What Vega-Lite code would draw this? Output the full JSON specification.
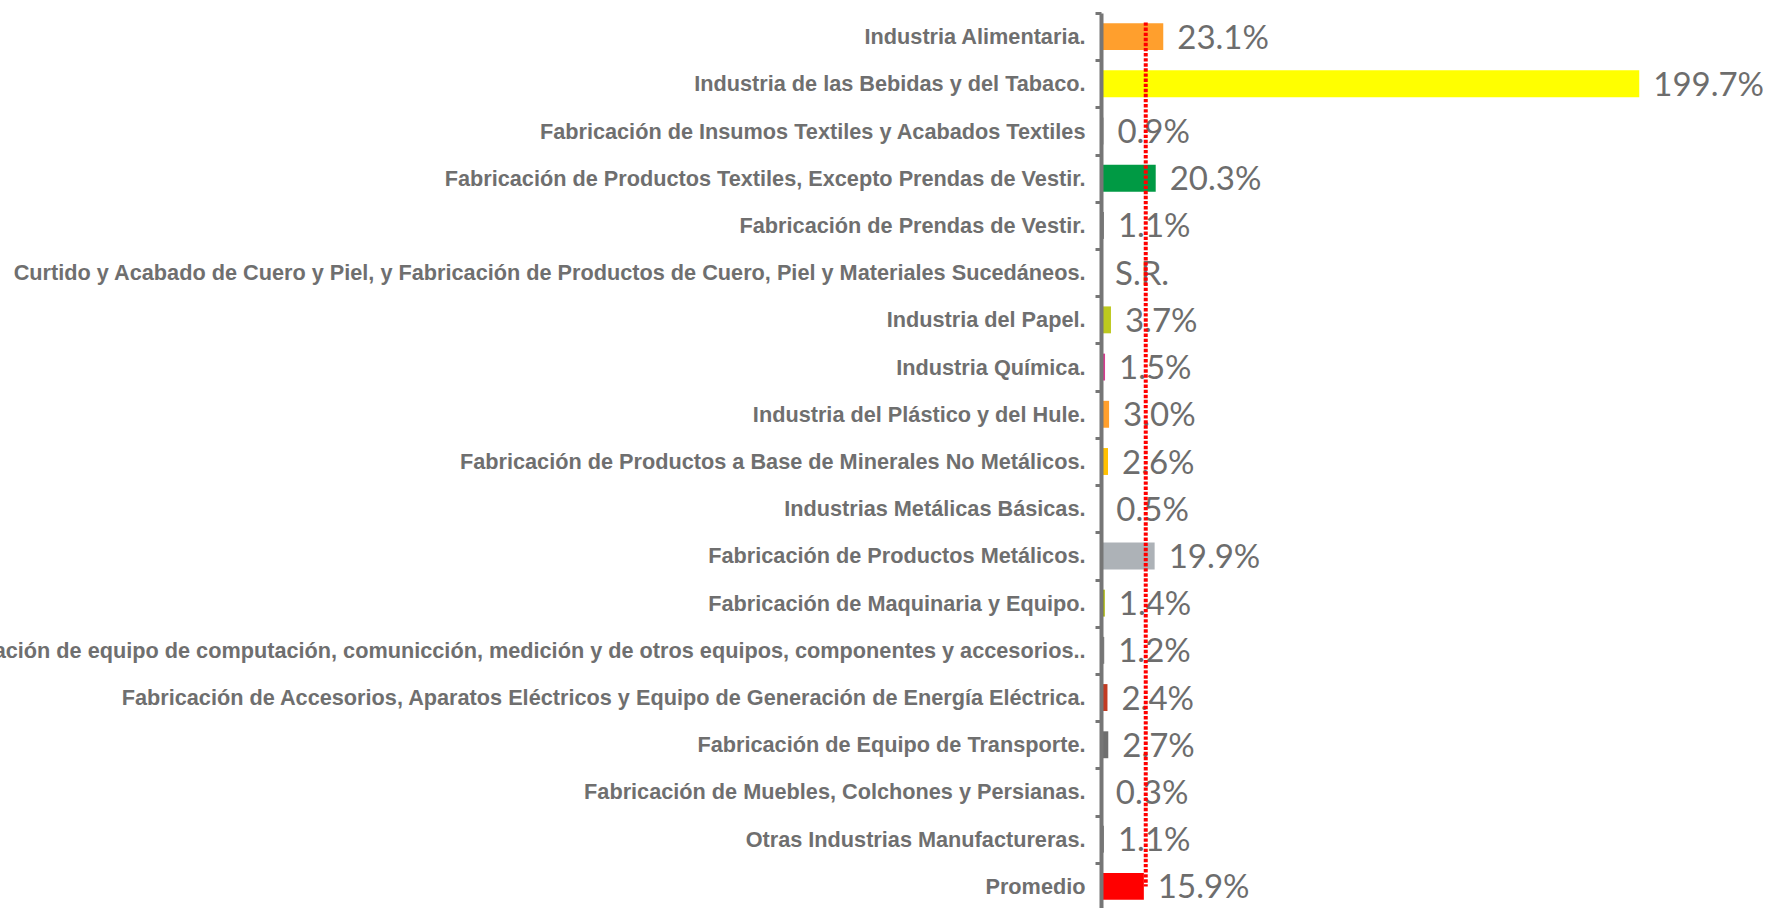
{
  "$schema": "https://vega.github.io/schema/vega-lite/v6.json",
  "autosize": "none",
  "padding": {"left": 1101, "top": 13, "right": 0, "bottom": 0},
  "width": 666,
  "height": 897,
  "background": "white",
  "config": {"view": {"stroke": null}},
  "data": {
    "values": [
      {"sector": "Industria Alimentaria.", "valor": 23.1, "etiqueta": "23.1%"},
      {"sector": "Industria de las Bebidas y del Tabaco.", "valor": 199.7, "etiqueta": "199.7%"},
      {"sector": "Fabricación de Insumos Textiles y Acabados Textiles", "valor": 0.9, "etiqueta": "0.9%"},
      {"sector": "Fabricación de Productos Textiles, Excepto Prendas de Vestir.", "valor": 20.3, "etiqueta": "20.3%"},
      {"sector": "Fabricación de Prendas de Vestir.", "valor": 1.1, "etiqueta": "1.1%"},
      {"sector": "Curtido y Acabado de Cuero y Piel, y Fabricación de Productos de Cuero, Piel y Materiales Sucedáneos.", "valor": null, "etiqueta": "S.R."},
      {"sector": "Industria del Papel.", "valor": 3.7, "etiqueta": "3.7%"},
      {"sector": "Industria Química.", "valor": 1.5, "etiqueta": "1.5%"},
      {"sector": "Industria del Plástico y del Hule.", "valor": 3.0, "etiqueta": "3.0%"},
      {"sector": "Fabricación de Productos a Base de Minerales No Metálicos.", "valor": 2.6, "etiqueta": "2.6%"},
      {"sector": "Industrias Metálicas Básicas.", "valor": 0.5, "etiqueta": "0.5%"},
      {"sector": "Fabricación de Productos Metálicos.", "valor": 19.9, "etiqueta": "19.9%"},
      {"sector": "Fabricación de Maquinaria y Equipo.", "valor": 1.4, "etiqueta": "1.4%"},
      {"sector": "Fabricación de equipo de computación, comunicción, medición y de otros equipos, componentes y accesorios..", "valor": 1.2, "etiqueta": "1.2%"},
      {"sector": "Fabricación de Accesorios, Aparatos Eléctricos y Equipo de Generación de Energía Eléctrica.", "valor": 2.4, "etiqueta": "2.4%"},
      {"sector": "Fabricación de Equipo de Transporte.", "valor": 2.7, "etiqueta": "2.7%"},
      {"sector": "Fabricación de Muebles, Colchones y Persianas.", "valor": 0.3, "etiqueta": "0.3%"},
      {"sector": "Otras Industrias Manufactureras.", "valor": 1.1, "etiqueta": "1.1%"},
      {"sector": "Promedio", "valor": 15.9, "etiqueta": "15.9%"}
    ]
  },
  "layer": [
    {
      "mark": {"type": "bar", "height": {"band": 0.57}, "invalid": "show"},
      "encoding": {
        "y": {
          "field": "sector", "type": "nominal", "sort": null,
          "scale": {
            "paddingInner": 0, "paddingOuter": 0,
            "domain": [
              "Industria Alimentaria.",
              "Industria de las Bebidas y del Tabaco.",
              "Fabricación de Insumos Textiles y Acabados Textiles",
              "Fabricación de Productos Textiles, Excepto Prendas de Vestir.",
              "Fabricación de Prendas de Vestir.",
              "Curtido y Acabado de Cuero y Piel, y Fabricación de Productos de Cuero, Piel y Materiales Sucedáneos.",
              "Industria del Papel.",
              "Industria Química.",
              "Industria del Plástico y del Hule.",
              "Fabricación de Productos a Base de Minerales No Metálicos.",
              "Industrias Metálicas Básicas.",
              "Fabricación de Productos Metálicos.",
              "Fabricación de Maquinaria y Equipo.",
              "Fabricación de equipo de computación, comunicción, medición y de otros equipos, componentes y accesorios..",
              "Fabricación de Accesorios, Aparatos Eléctricos y Equipo de Generación de Energía Eléctrica.",
              "Fabricación de Equipo de Transporte.",
              "Fabricación de Muebles, Colchones y Persianas.",
              "Otras Industrias Manufactureras.",
              "Promedio"
            ]
          },
          "axis": {
            "title": null, "tickBand": "extent", "zindex": 1,
            "domainColor": "#767676", "domainWidth": 4,
            "tickColor": "#767676", "tickWidth": 3, "tickSize": 6,
            "labelPadding": 10, "labelLimit": 2000,
            "labelFont": "Liberation Sans", "labelFontWeight": "bold", "labelFontSize": 21.7,
            "labelColor": "#6f6f6f"
          }
        },
        "x": {
          "field": "valor", "type": "quantitative",
          "scale": {"domain": [0, 247.1], "nice": false, "zero": true},
          "axis": null
        },
        "color": {
          "field": "sector", "type": "nominal", "legend": null,
          "scale": {
            "domain": [
              "Industria Alimentaria.",
              "Industria de las Bebidas y del Tabaco.",
              "Fabricación de Insumos Textiles y Acabados Textiles",
              "Fabricación de Productos Textiles, Excepto Prendas de Vestir.",
              "Fabricación de Prendas de Vestir.",
              "Curtido y Acabado de Cuero y Piel, y Fabricación de Productos de Cuero, Piel y Materiales Sucedáneos.",
              "Industria del Papel.",
              "Industria Química.",
              "Industria del Plástico y del Hule.",
              "Fabricación de Productos a Base de Minerales No Metálicos.",
              "Industrias Metálicas Básicas.",
              "Fabricación de Productos Metálicos.",
              "Fabricación de Maquinaria y Equipo.",
              "Fabricación de equipo de computación, comunicción, medición y de otros equipos, componentes y accesorios..",
              "Fabricación de Accesorios, Aparatos Eléctricos y Equipo de Generación de Energía Eléctrica.",
              "Fabricación de Equipo de Transporte.",
              "Fabricación de Muebles, Colchones y Persianas.",
              "Otras Industrias Manufactureras.",
              "Promedio"
            ],
            "range": [
              "#FF9F2D", "#FFFF00", "#7F7F7F", "#009A44", "#7F7F7F", "#7F7F7F",
              "#BDC91E", "#D63A8F", "#FF9F2D", "#FFC000", "#7F7F7F", "#ADB2B7",
              "#A8B400", "#7F7F7F", "#C23B22", "#6F6F6F", "#7F7F7F", "#7F7F7F", "#FF0000"
            ]
          }
        }
      }
    },
    {
      "mark": {"type": "text", "align": "left", "baseline": "middle", "dx": 14, "dy": 2, "font": "Lato", "fontSize": 33, "color": "#6d6d6d", "invalid": "show"},
      "encoding": {
        "y": {"field": "sector", "type": "nominal", "sort": null},
        "x": {"field": "valor", "type": "quantitative"},
        "text": {"field": "etiqueta", "type": "nominal"}
      }
    },
    {
      "data": {"values": [{"promedio": 16.6, "desde": "Industria Alimentaria.", "hasta": "Promedio"}]},
      "mark": {"type": "rule", "color": "#FF0000", "strokeWidth": 4, "strokeDash": [3.4, 1.7]},
      "encoding": {
        "x": {"field": "promedio", "type": "quantitative"},
        "y": {"field": "desde", "type": "nominal", "sort": null, "bandPosition": 0.2},
        "y2": {"field": "hasta"}
      }
    }
  ]
}
